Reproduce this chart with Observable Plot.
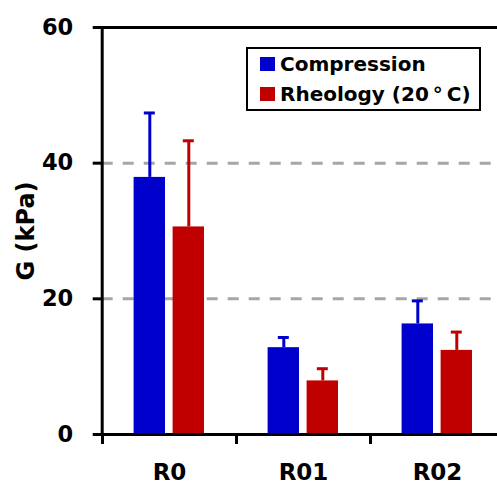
<!DOCTYPE html>
<html>
<head>
<meta charset="utf-8">
<script src="https://cdn.jsdelivr.net/npm/d3@7"></script>
<script src="https://cdn.jsdelivr.net/npm/@observablehq/plot@0.6"></script>
<style>
  html, body { margin: 0; padding: 0; background: #fff; overflow: hidden; }
  #wrap { position: relative; width: 497px; height: 484px; font-family: "DejaVu Sans", sans-serif; }
  #legend { position: absolute; left: 246px; top: 47px; width: 231px; height: 60px; border: 2px solid #000; background: #fff; font-weight: bold; font-size: 20px; }
  #legend .row { position: absolute; left: 12px; display: flex; align-items: center; white-space: nowrap; }
  #legend .sw { width: 15px; height: 14px; margin-right: 5px; }
</style>
</head>
<body>
<div id="wrap"></div>
<script>
const categories = ["R0", "R01", "R02"];
const series = ["Compression", "Rheology (20\u2009°\u2009C)"];
const compression = [37.9, 12.8, 16.3];
const compressionErr = [9.5, 1.5, 3.4];
const rheology = [30.6, 7.9, 12.4];
const rheologyErr = [12.7, 1.8, 2.7];
const yTicks = [0, 20, 40, 60];
const gridValues = [20, 40];
const colors = ["#0000CC", "#C00000"];

const comp = categories.map((c, i) => ({cat: c, v: compression[i], e: compressionErr[i]}));
const rheo = categories.map((c, i) => ({cat: c, v: rheology[i], e: rheologyErr[i]}));

const font = "DejaVu Sans, sans-serif";

const chart = Plot.plot({
  width: 497,
  height: 484,
  marginLeft: 101.7,
  marginRight: 0,
  marginTop: 27,
  marginBottom: 50,
  style: {fontFamily: font, background: "#fff"},
  x: {domain: categories, range: [101.7, 503.7], padding: 0},
  y: {domain: [0, 60]},
  marks: [
    Plot.ruleY(gridValues, {stroke: "#a6a6a6", strokeWidth: 3, strokeDasharray: "11,10"}),
    // error bars
    Plot.ruleX(comp, {x: "cat", y1: "v", y2: d => d.v + d.e, stroke: colors[0], strokeWidth: 3, dx: -19.7}),
    Plot.tickY(comp, {x: "cat", y: d => d.v + d.e, stroke: colors[0], strokeWidth: 3, insetLeft: 41.8, insetRight: 81.2}),
    Plot.ruleX(rheo, {x: "cat", y1: "v", y2: d => d.v + d.e, stroke: colors[1], strokeWidth: 3, dx: 19.3}),
    Plot.tickY(rheo, {x: "cat", y: d => d.v + d.e, stroke: colors[1], strokeWidth: 3, insetLeft: 80.8, insetRight: 42.2}),
    // bars
    Plot.barY(comp, {x: "cat", y: "v", fill: colors[0], insetLeft: 31.6, insetRight: 71}),
    Plot.barY(rheo, {x: "cat", y: "v", fill: colors[1], insetLeft: 70.6, insetRight: 32}),
    // frame lines
    Plot.ruleY([0, 60], {stroke: "#000", strokeWidth: 3}),
    Plot.frame({anchor: "left", stroke: "#000", strokeWidth: 3}),
    // axes
    Plot.axisY(yTicks, {
      tickSize: 9, tickPadding: 20, strokeWidth: 3, stroke: "#000",
      fontSize: 22.5, fontWeight: "bold", fill: "#000", label: null
    }),
    Plot.axisY([], {
      tickSize: 0, fontSize: 24, fontWeight: "bold", fill: "#000",
      label: "G (kPa)", labelAnchor: "center", labelArrow: "none", labelOffset: 85
    }),
    Plot.axisX({tickSize: 10, strokeWidth: 3, stroke: "#000", text: null, label: null, dx: -67}),
    Plot.axisX({tickSize: 0, tickPadding: 29, fontSize: 23, fontWeight: "bold", fill: "#000", label: null})
  ]
});

const wrap = document.getElementById("wrap");
wrap.appendChild(chart);

const legend = document.createElement("div");
legend.id = "legend";
series.forEach((s, i) => {
  const row = document.createElement("div");
  row.className = "row";
  row.style.top = (i === 0 ? 3 : 33) + "px";
  const sw = document.createElement("span");
  sw.className = "sw";
  sw.style.background = colors[i];
  const t = document.createElement("span");
  t.textContent = s;
  row.appendChild(sw);
  row.appendChild(t);
  legend.appendChild(row);
});
wrap.appendChild(legend);
</script>
</body>
</html>
